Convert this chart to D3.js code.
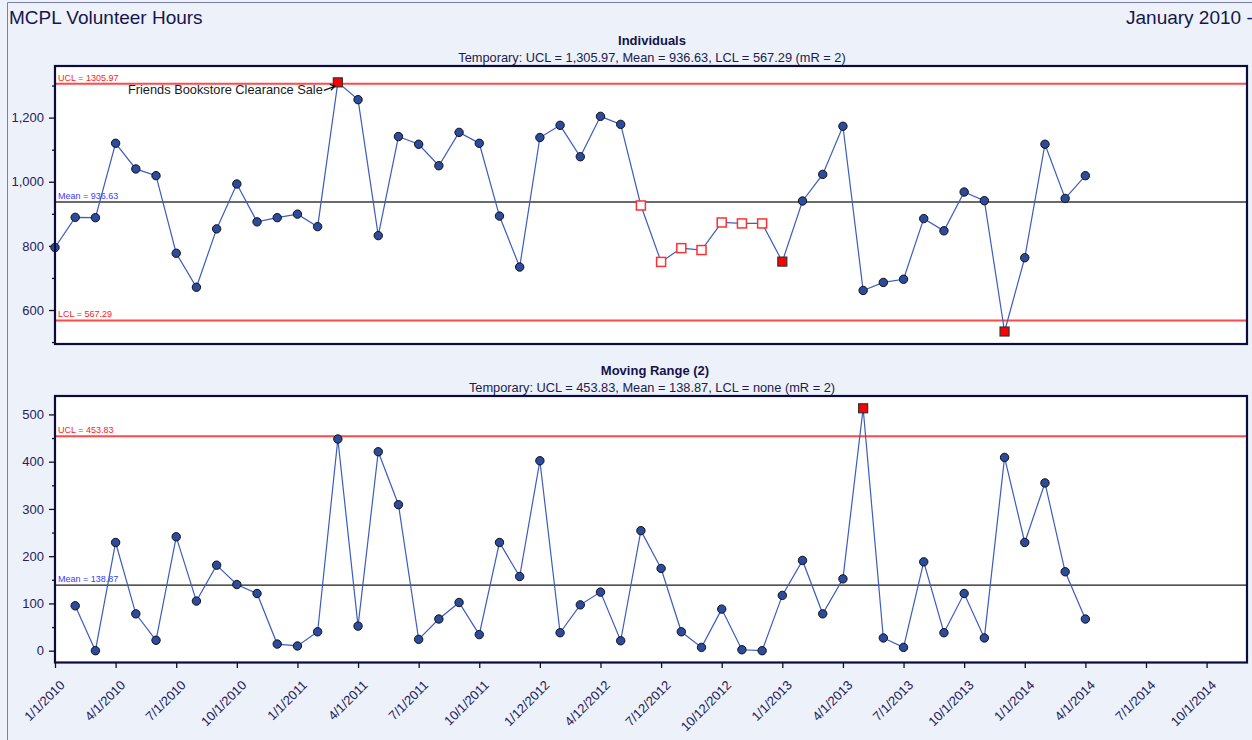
<!DOCTYPE html>
<html>
<head>
<meta charset="utf-8">
<script src="https://cdn.jsdelivr.net/npm/d3@7"></script>
<style>
body { margin: 0; background: #edf1fa; }
svg { display: block; font-family: "Liberation Sans", Arial, sans-serif; }
</style>
</head>
<body>
<svg id="chart" width="1252" height="740"></svg>
<script>
'use strict';

// monthly volunteer hours, Jan 2010 .. Apr 2014
var individuals = [795, 889, 888, 1120, 1040, 1019, 777, 671, 853, 993, 875, 888, 899, 860,
	1310, 1256, 832, 1141, 1117, 1050, 1154, 1120, 893, 734, 1138, 1176, 1078, 1204, 1179,
	926, 750, 793, 787, 873, 870, 870, 751, 940, 1023, 1173, 661, 686, 696, 885, 847, 968,
	941, 533, 763, 1117, 948, 1019];
// moving range, starts at the second month
var movingRange = [95, 0, 229, 78, 22, 241, 105, 181, 140, 121, 14, 10, 40, 448, 52, 421,
	309, 24, 67, 102, 34, 229, 157, 402, 38, 97, 124, 21, 254, 174, 40, 7, 88, 2, 0, 117,
	191, 78, 152, 513, 27, 7, 188, 38, 121, 27, 409, 229, 355, 167, 67];
var individualsOut = [14, 36, 47];
var individualsRun = [29, 30, 31, 32, 33, 34, 35];
var rangeOut = [40];
var individualsLimits = [1305.97, 936.63, 567.29];
var rangeLimits = [453.83, 138.87];
var tickMonths = [0, 3, 6, 9, 12, 15, 18, 21, 24, 27, 30, 33, 36, 39, 42, 45, 48, 51, 54, 57];
var tickLabels = ['1/1/2010', '4/1/2010', '7/1/2010', '10/1/2010', '1/1/2011', '4/1/2011',
	'7/1/2011', '10/1/2011', '1/12/2012', '4/12/2012', '7/12/2012', '10/12/2012', '1/1/2013',
	'4/1/2013', '7/1/2013', '10/1/2013', '1/1/2014', '4/1/2014', '7/1/2014', '10/1/2014'];

var svg = d3.select('#chart');
var W = 1252, H = 740;
var left = 55, right = 1247;

svg.append('rect')
	.attr('width', W)
	.attr('height', H)
	.attr('fill', '#edf1fa')
	;
svg.append('path')
	.attr('d', 'M7.5,' + H + 'V2.5H' + W)
	.attr('fill', 'none')
	.attr('stroke', '#7b7fb0')
	;

svg.append('text')
	.attr('x', 9)
	.attr('y', 24)
	.attr('font-size', '19px')
	.attr('fill', '#16164c')
	.text('MCPL Volunteer Hours')
	;
svg.append('text')
	.attr('x', 1126)
	.attr('y', 24)
	.attr('font-size', '19px')
	.attr('fill', '#16164c')
	.text('January 2010 -')
	;

var x = d3.scaleLinear().domain([0, 59]).range([left, right]);

function drawPanel(cfg) {
	var y = d3.scaleLinear().domain(cfg.domain).range([cfg.bottom, cfg.top]);
	var g = svg.append('g');

	g.append('text')
		.attr('x', cfg.titleX)
		.attr('y', cfg.top - 21)
		.attr('text-anchor', 'middle')
		.attr('font-size', '13px')
		.attr('font-weight', 'bold')
		.attr('fill', '#13134a')
		.text(cfg.title)
		;
	g.append('text')
		.attr('x', cfg.subX)
		.attr('y', cfg.top - 4)
		.attr('text-anchor', 'middle')
		.attr('font-size', '12.8px')
		.attr('fill', '#1c1c50')
		.text(cfg.subtitle)
		;

	g.append('rect')
		.attr('x', left)
		.attr('y', cfg.top)
		.attr('width', right - left)
		.attr('height', cfg.bottom - cfg.top)
		.attr('fill', '#fff')
		;

	// y axis, major and minor ticks
	var major = d3.axisLeft(y).tickValues(cfg.major).tickSize(6).tickPadding(5)
		.tickFormat(d3.format(','));
	var minor = d3.axisLeft(y).tickValues(cfg.minor).tickSize(3).tickFormat('');
	[major, minor].forEach(function(ax) {
		var a = g.append('g')
			.attr('transform', 'translate(' + left + ',0)')
			.call(ax)
			;
		a.select('.domain').remove();
		a.selectAll('line').attr('stroke', '#111').attr('stroke-width', 1.3);
		a.selectAll('text')
			.attr('font-size', '13px')
			.attr('font-family', '"Liberation Sans", Arial, sans-serif')
			.attr('fill', '#22225c')
			;
	});

	// control lines
	cfg.lines.forEach(function(l) {
		g.append('line')
			.attr('x1', left)
			.attr('x2', right)
			.attr('y1', y(l.value))
			.attr('y2', y(l.value))
			.attr('stroke', l.color)
			.attr('stroke-width', l.width)
			;
		g.append('text')
			.attr('x', left + 3)
			.attr('y', y(l.value) - 3)
			.attr('font-size', '9px')
			.attr('fill', l.labelColor)
			.text(l.label)
			;
	});

	var line = d3.line()
		.x(function(d) { return x(d.i); })
		.y(function(d) { return y(d.v); })
		;
	g.append('path')
		.datum(cfg.points)
		.attr('d', line)
		.attr('fill', 'none')
		.attr('stroke', '#3b5cc0')
		.attr('stroke-width', 1.2)
		;

	g.selectAll('circle.pt')
		.data(cfg.points.filter(function(d) { return d.kind == 'dot'; }))
		.enter()
		.append('circle')
			.classed('pt', true)
			.attr('cx', function(d) { return x(d.i); })
			.attr('cy', function(d) { return y(d.v); })
			.attr('r', 4.2)
			.attr('fill', '#2c4b9c')
			.attr('stroke', '#111')
			.attr('stroke-width', 1)
		;
	g.selectAll('rect.pt')
		.data(cfg.points.filter(function(d) { return d.kind != 'dot'; }))
		.enter()
		.append('rect')
			.classed('pt', true)
			.attr('x', function(d) { return x(d.i) - 4.5; })
			.attr('y', function(d) { return y(d.v) - 4.5; })
			.attr('width', 9)
			.attr('height', 9)
			.attr('fill', function(d) { return d.kind == 'out' ? '#ff0000' : '#fff'; })
			.attr('stroke', function(d) { return d.kind == 'out' ? '#333' : '#ff3030'; })
			.attr('stroke-width', function(d) { return d.kind == 'out' ? 1.2 : 1.5; })
		;

	g.append('rect')
		.attr('x', left)
		.attr('y', cfg.top)
		.attr('width', right - left)
		.attr('height', cfg.bottom - cfg.top)
		.attr('fill', 'none')
		.attr('stroke', '#0b0b3e')
		.attr('stroke-width', 2.2)
		;

	return {g: g, y: y};
}

var indPoints = individuals.map(function(v, i) {
	var kind = 'dot';
	if (individualsOut.indexOf(i) >= 0) kind = 'out';
	if (individualsRun.indexOf(i) >= 0) kind = 'run';
	return {i: i, v: v, kind: kind};
});
var mrPoints = movingRange.map(function(v, k) {
	var i = k + 1;
	return {i: i, v: v, kind: rangeOut.indexOf(i) >= 0 ? 'out' : 'dot'};
});

var top1 = drawPanel({
	top: 66, bottom: 344,
	domain: [494, 1361],
	major: [600, 800, 1000, 1200],
	minor: [500, 700, 900, 1100, 1300],
	title: 'Individuals', titleX: 652,
	subtitle: 'Temporary: UCL = 1,305.97, Mean = 936.63, LCL = 567.29 (mR = 2)', subX: 652,
	points: indPoints,
	lines: [
		{value: individualsLimits[0], color: '#ff4a4a', width: 2, label: 'UCL = 1305.97', labelColor: '#ff2020'},
		{value: individualsLimits[1], color: '#6b6b6b', width: 2, label: 'Mean = 936.63', labelColor: '#3a3aff'},
		{value: individualsLimits[2], color: '#ff4a4a', width: 2, label: 'LCL = 567.29', labelColor: '#ff2020'},
	],
});

var bot = drawPanel({
	top: 396, bottom: 662.5,
	domain: [-25, 539],
	major: [0, 100, 200, 300, 400, 500],
	minor: [50, 150, 250, 350, 450],
	title: 'Moving Range (2)', titleX: 655,
	subtitle: 'Temporary: UCL = 453.83, Mean = 138.87, LCL = none (mR = 2)', subX: 652,
	points: mrPoints,
	lines: [
		{value: rangeLimits[0], color: '#ff4a4a', width: 2, label: 'UCL = 453.83', labelColor: '#ff2020'},
		{value: rangeLimits[1], color: '#1a1a1a', width: 1.3, label: 'Mean = 138.87', labelColor: '#3a3aff'},
	],
});

// date axis under the moving range chart
var xa = svg.append('g')
	.attr('transform', 'translate(0,663)')
	.call(d3.axisBottom(x)
		.tickValues(tickMonths)
		.tickSize(5)
		.tickFormat(function(d, i) { return tickLabels[i]; }))
	;
xa.select('.domain').remove();
xa.selectAll('line').attr('stroke', '#111').attr('stroke-width', 1.3);
xa.selectAll('text')
	.attr('x', 0)
	.attr('y', 0)
	.attr('dy', 0)
	.attr('transform', 'translate(10,23) rotate(-45)')
	.attr('text-anchor', 'end')
	.attr('font-size', '13px')
	.attr('font-family', '"Liberation Sans", Arial, sans-serif')
	.attr('fill', '#22225c')
	;

// annotation on the bookstore sale
var ax = x(14), ay = top1.y(individuals[14]);
svg.append('text')
	.attr('x', ax - 15)
	.attr('y', ay + 12)
	.attr('text-anchor', 'end')
	.attr('font-size', '12.8px')
	.attr('fill', '#1a1a1a')
	.text('Friends Bookstore Clearance Sale')
	;
svg.append('path')
	.attr('d', 'M' + (ax - 14) + ',' + (ay + 8) + 'L' + (ax - 3) + ',' + (ay + 4)
		+ 'M' + (ax - 8) + ',' + (ay + 2) + 'L' + (ax - 3) + ',' + (ay + 4) + 'L' + (ax - 7) + ',' + (ay + 8))
	.attr('fill', 'none')
	.attr('stroke', '#111')
	.attr('stroke-width', 1.3)
	;
</script>
</body>
</html>
